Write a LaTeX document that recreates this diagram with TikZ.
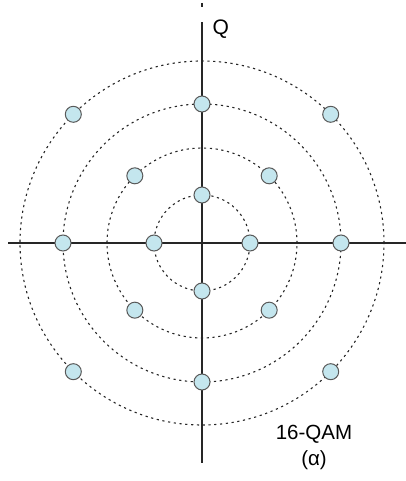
\documentclass[tikz,border=0pt]{standalone}
\usepackage{fontspec}
\setmainfont{Liberation Sans}
\usetikzlibrary{calc}
\definecolor{ptfill}{RGB}{196,230,238}
\begin{document}
\begin{tikzpicture}[x=1pt,y=1pt,
  axis/.style={line width=1.3pt,draw=black!85},
  ring/.style={draw=black!85,line width=1.1pt,dash pattern=on 2.2pt off 3.6pt},
  pt/.style={circle,draw=black!65,line width=1pt,fill=ptfill,minimum size=16pt,inner sep=0pt}]
\useasboundingbox (0,0) rectangle (406,481);
\coordinate (O) at (202,238);
\coordinate (L) at (8,238);
\coordinate (R) at (406,238);
\coordinate (T) at (202,459);
\coordinate (B) at (202,18);
\coordinate (T1) at (202,478);
\coordinate (T2) at (202,474);
\draw[axis] (L) -- (R);
\draw[axis] (B) -- (T);
\draw[axis] (T1) -- (T2);
\foreach \r in {48,95,139,182} \draw[ring] (O) circle (\r);
\foreach \a in {0,90,180,270} {
  \node[pt] (a\a) at ($(O)+(\a:48)$) {};
  \node[pt] (c\a) at ($(O)+(\a:139)$) {};
}
\foreach \a in {45,135,225,315} {
  \node[pt] (b\a) at ($(O)+(\a:95)$) {};
  \node[pt] (d\a) at ($(O)+(\a:182)$) {};
}
\node[font=\fontsize{21}{24}\selectfont,anchor=west] (q) at (209,452) {Q};
\node[font=\fontsize{20.5}{26}\selectfont,align=center] (lbl) at (314,34) {16-QAM\\(α)};
\end{tikzpicture}
\end{document}
